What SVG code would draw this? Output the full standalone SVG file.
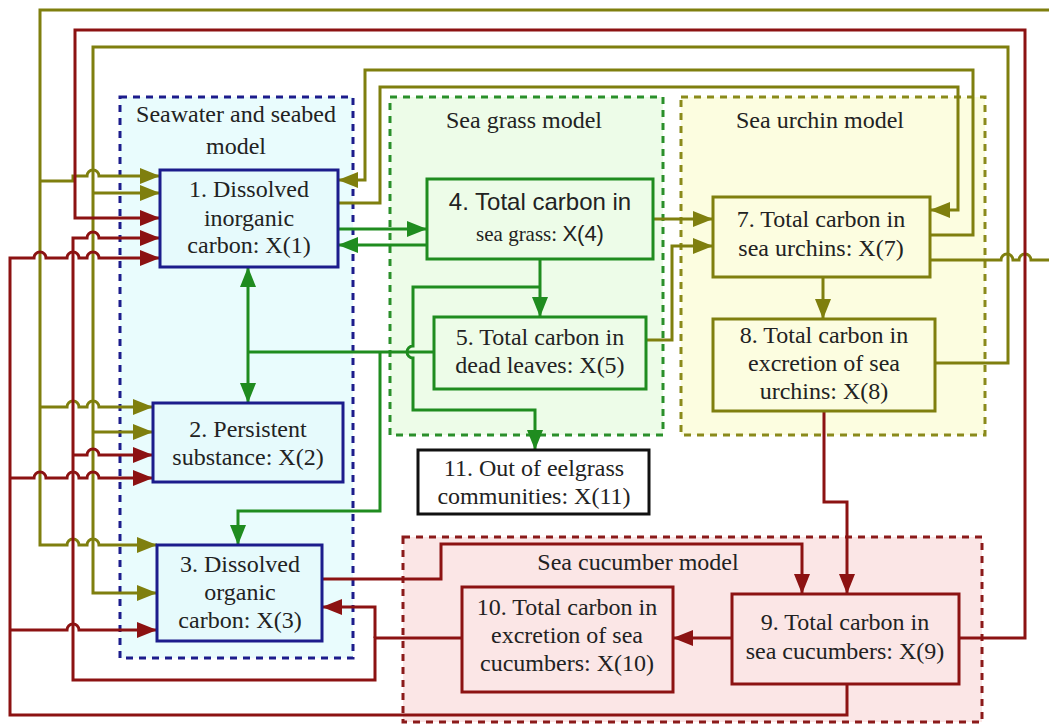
<svg xmlns="http://www.w3.org/2000/svg" width="1049" height="725" viewBox="0 0 1049 725">
<style>
.bg{fill:#ffffff}
.t{font-family:"Liberation Serif","Times New Roman",serif;font-size:24px;fill:#222;text-anchor:middle}
.s{font-family:"Liberation Sans",Arial,sans-serif}
.c{fill:none;stroke-width:3;stroke-linejoin:miter}
.ol{stroke:#7f7f0e}
.rd{stroke:#8c1212}
.gr{stroke:#1f8c1f}
.box{stroke-width:3}
.cont{stroke-width:3;stroke-dasharray:7 6}
</style>
<defs>
<marker id="aOl" markerUnits="userSpaceOnUse" markerWidth="20" markerHeight="16" refX="20" refY="8" orient="auto"><path d="M0,0 L20,8 L0,16 z" fill="#7f7f0e"/></marker>
<marker id="aRd" markerUnits="userSpaceOnUse" markerWidth="20" markerHeight="16" refX="20" refY="8" orient="auto"><path d="M0,0 L20,8 L0,16 z" fill="#8c1212"/></marker>
<marker id="aGr" markerUnits="userSpaceOnUse" markerWidth="20" markerHeight="16" refX="20" refY="8" orient="auto"><path d="M0,0 L20,8 L0,16 z" fill="#1f8c1f"/></marker>
</defs>
<rect class="bg" x="0" y="0" width="1049" height="725"/>

<g id="containers">
<g id="seawater-model">
<rect class="cont" x="120" y="97" width="233" height="561" fill="#e9fcfd" stroke="#1c1c8c"/>
<text class="t" x="236" y="122">Seawater and seabed</text>
<text class="t" x="236" y="154">model</text>
</g>
<g id="seagrass-model">
<rect class="cont" x="390" y="97" width="273" height="338" fill="#edfce8" stroke="#2a8f2a"/>
<text class="t" x="524" y="128">Sea grass model</text>
</g>
<g id="seaurchin-model">
<rect class="cont" x="681" y="97" width="304" height="338" fill="#fcfde0" stroke="#8a8a1a"/>
<text class="t" x="820" y="128">Sea urchin model</text>
</g>
<g id="seacucumber-model">
<rect class="cont" x="403" y="537" width="579" height="185" fill="#fbe6e6" stroke="#8b1a1a"/>
<text class="t" x="638" y="570">Sea cucumber model</text>
</g>
</g>

<g id="connectors">
<!-- olive -->
<path class="c ol" d="M930,260 H1001 a6,6 0 0 1 12,0 H1019 a6,6 0 0 1 12,0 H1053 V10 H40 V545 H67 a6,6 0 0 1 12,0 H87 a6,6 0 0 1 12,0 H157" marker-end="url(#aOl)"/>
<path class="c ol" d="M40,181 H73 V176 H87 a6,6 0 0 1 12,0 H160" marker-end="url(#aOl)"/>
<path class="c ol" d="M40,407 H67 a6,6 0 0 1 12,0 H87 a6,6 0 0 1 12,0 H153" marker-end="url(#aOl)"/>
<path class="c ol" d="M935,363 H1008 V47 H93 V593 H157" marker-end="url(#aOl)"/>
<path class="c ol" d="M93,193 H160" marker-end="url(#aOl)"/>
<path class="c ol" d="M93,432 H153" marker-end="url(#aOl)"/>
<path class="c ol" d="M930,235 H973 V70 H365 V180 H338" marker-end="url(#aOl)"/>
<path class="c ol" d="M338,203 H380 V87 H958 V210 H930" marker-end="url(#aOl)"/>
<path class="c ol" d="M653,219 H713" marker-end="url(#aOl)"/>
<path class="c ol" d="M646,340 H672 V246 H713" marker-end="url(#aOl)"/>
<path class="c ol" d="M823,277 V319" marker-end="url(#aOl)"/>
<!-- red -->
<path class="c rd" d="M959,638 H1025 V30 H75 V218 H160" marker-end="url(#aRd)"/>
<path class="c rd" d="M462,638 H375 V680 H73 V238 H87 a6,6 0 0 1 12,0 H160" marker-end="url(#aRd)"/>
<path class="c rd" d="M375,638 V607 H322" marker-end="url(#aRd)"/>
<path class="c rd" d="M73,455 H87 a6,6 0 0 1 12,0 H153" marker-end="url(#aRd)"/>
<path class="c rd" d="M847,684 V715 H10 V258 H34 a6,6 0 0 1 12,0 H67 a6,6 0 0 1 12,0 H87 a6,6 0 0 1 12,0 H160" marker-end="url(#aRd)"/>
<path class="c rd" d="M10,478 H34 a6,6 0 0 1 12,0 H67 a6,6 0 0 1 12,0 H87 a6,6 0 0 1 12,0 H153" marker-end="url(#aRd)"/>
<path class="c rd" d="M10,630 H67 a6,6 0 0 1 12,0 H157" marker-end="url(#aRd)"/>
<path class="c rd" d="M322,579 H441 V544 H802 V594" marker-end="url(#aRd)"/>
<path class="c rd" d="M824,411 V502 H847 V594" marker-end="url(#aRd)"/>
<path class="c rd" d="M732,638 H673" marker-end="url(#aRd)"/>
<!-- green -->
<path class="c gr" d="M338,229 H427" marker-end="url(#aGr)"/>
<path class="c gr" d="M427,245 H338" marker-end="url(#aGr)"/>
<path class="c gr" d="M540,259 V317" marker-end="url(#aGr)"/>
<path class="c gr" d="M540,287 H413 V346 a6,6 0 0 0 0,12 V410 H535 V450" marker-end="url(#aGr)"/>
<path class="c gr" d="M434,352 H248"/>
<path class="c gr" d="M248,352 V267" marker-end="url(#aGr)"/>
<path class="c gr" d="M248,352 V403" marker-end="url(#aGr)"/>
<path class="c gr" d="M380,352 V511 H238 V545" marker-end="url(#aGr)"/>
</g>

<g id="node1">
<rect class="box" x="160" y="170" width="178" height="97" fill="#e6fafc" stroke="#1c1c8c"/>
<text class="t" x="249" y="197">1. Dissolved</text>
<text class="t" x="249" y="226">inorganic</text>
<text class="t" x="249" y="253">carbon: X(1)</text>
</g>
<g id="node2">
<rect class="box" x="153" y="403" width="190" height="79" fill="#e6fafc" stroke="#1c1c8c"/>
<text class="t" x="248" y="437">2. Persistent</text>
<text class="t" x="248" y="465">substance: X(2)</text>
</g>
<g id="node3">
<rect class="box" x="157" y="545" width="165" height="96" fill="#e6fafc" stroke="#1c1c8c"/>
<text class="t" x="240" y="572">3. Dissolved</text>
<text class="t" x="240" y="600">organic</text>
<text class="t" x="240" y="628">carbon: X(3)</text>
</g>
<g id="node4">
<rect class="box" x="427" y="179" width="226" height="80" fill="#edfce8" stroke="#1f8c1f"/>
<text class="t s" x="540" y="210" font-size="23">4. Total carbon in</text>
<text class="t" x="540" y="241"><tspan font-size="21">sea grass: </tspan><tspan class="s" font-size="22">X(4)</tspan></text>
</g>
<g id="node5">
<rect class="box" x="434" y="317" width="212" height="72" fill="#edfce8" stroke="#1f8c1f"/>
<text class="t" x="540" y="345">5. Total carbon in</text>
<text class="t" x="540" y="373">dead leaves: X(5)</text>
</g>
<g id="node11">
<rect class="box" x="418" y="450" width="231" height="64" fill="#ffffff" stroke="#111111"/>
<text class="t" x="534" y="476">11. Out of eelgrass</text>
<text class="t" x="534" y="504">communities: X(11)</text>
</g>
<g id="node7">
<rect class="box" x="713" y="197" width="217" height="80" fill="#fcfde0" stroke="#7f7f0e"/>
<text class="t" x="821" y="227">7. Total carbon in</text>
<text class="t" x="821" y="256">sea urchins: X(7)</text>
</g>
<g id="node8">
<rect class="box" x="713" y="319" width="222" height="92" fill="#fcfde0" stroke="#7f7f0e"/>
<text class="t" x="824" y="343">8. Total carbon in</text>
<text class="t" x="824" y="371">excretion of sea</text>
<text class="t" x="824" y="399">urchins: X(8)</text>
</g>
<g id="node9">
<rect class="box" x="732" y="594" width="227" height="90" fill="#fbe6e6" stroke="#8c1212"/>
<text class="t" x="845" y="630">9. Total carbon in</text>
<text class="t" x="845" y="659">sea cucumbers: X(9)</text>
</g>
<g id="node10">
<rect class="box" x="462" y="587" width="211" height="105" fill="#fbe6e6" stroke="#8c1212"/>
<text class="t" x="567" y="615">10. Total carbon in</text>
<text class="t" x="567" y="643">excretion of sea</text>
<text class="t" x="567" y="671">cucumbers: X(10)</text>
</g>
</svg>
